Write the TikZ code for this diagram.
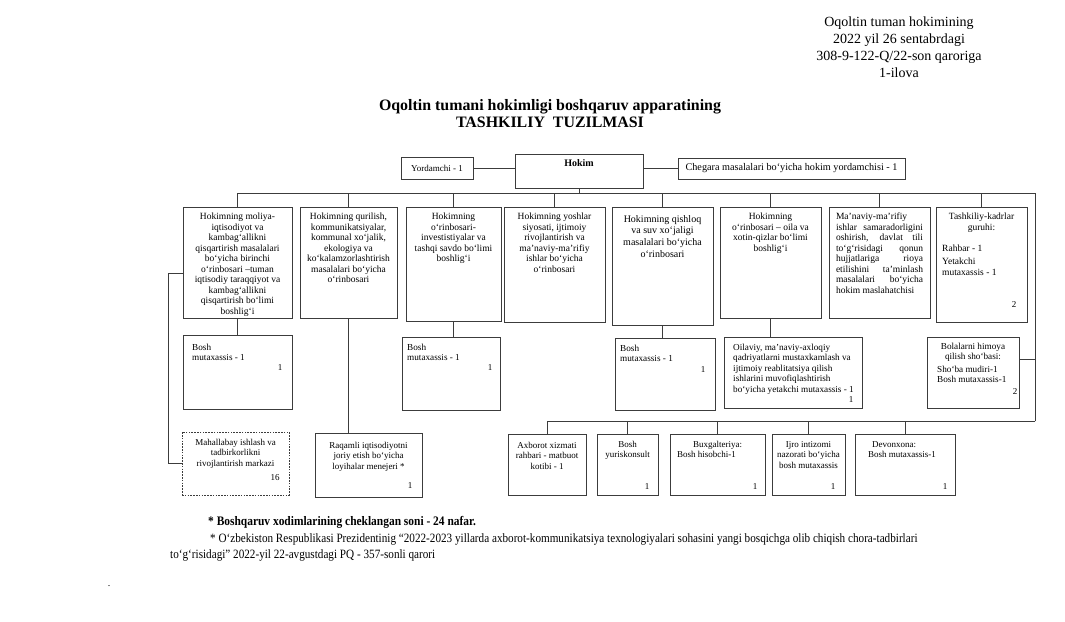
\documentclass[tikz,border=0pt]{standalone}
\usepackage{fontspec}
\setmainfont{Liberation Serif}
\newfontfamily\notefont[FakeStretch=0.88]{Liberation Serif}
\usetikzlibrary{positioning}
\definecolor{boxline}{RGB}{60, 60, 60}

\begin{document}
\begin{tikzpicture}[x=1pt, y=-1pt,
        box/.style={draw=boxline, line width=0.7pt, anchor=north west, inner sep=0pt, outer sep=0pt},
        dbox/.style={box, dash pattern=on 1.6pt off 1.2pt},
        txt/.style={inner sep=0pt, align=center, font=\fontsize{9}{10.5}\selectfont},
        txtl/.style={txt, align=left},
        big/.style={txt, font=\fontsize{9.5}{10.5}\selectfont},
        small/.style={inner sep=0pt, align=left, font=\fontsize{9.2}{10.4}\selectfont},
        num/.style={inner sep=0pt, font=\fontsize{9}{10.5}\selectfont},
        link/.style={draw=boxline, line width=0.7pt}
    ]
        \useasboundingbox (0,0) rectangle (1065,621);

        % Header
        \node[font=\fontsize{14}{17}\selectfont, align=center, anchor=north] (ilova) at (899,13) {Oqoltin tuman hokimining\\2022 yil 26 sentabrdagi\\308-9-122-Q/22-son qaroriga\\1-ilova};
        \node[font=\bfseries\fontsize{15.9}{17}\selectfont, align=center, anchor=north] (title) at (550,95.5) {Oqoltin tumani hokimligi boshqaruv apparatining\\TASHKILIY\ \ TUZILMASI};

        % Hokim
        \node[box, minimum width=72pt, minimum height=22pt, font=\fontsize{9}{10.5}\selectfont] (yord) at (401,157) {Yordamchi - 1};
        \node[box, minimum width=128pt, minimum height=34pt] (hokim) at (515,154) {};
        \node[txt, font=\bfseries\fontsize{10}{11.5}\selectfont, below=5pt of hokim.north] (hokimt) {Hokim};
        \node[box, minimum width=227pt, minimum height=21pt, font=\fontsize{10.2}{11.5}\selectfont] (cheg) at (678,158) {Chegara masalalari bo‘yicha hokim yordamchisi - 1};
        \draw[link] (yord.east) -- (yord.east -| hokim.west);
        \draw[link] (cheg.west) -- (cheg.west -| hokim.east);

        % Deputies
        \node[box, minimum width=109pt, minimum height=111pt] (m1) at (183,207) {};
        \node[box, minimum width=97pt, minimum height=111pt] (m2) at (300,207) {};
        \node[box, minimum width=95pt, minimum height=114pt] (m3) at (406,207) {};
        \node[box, minimum width=101pt, minimum height=115pt] (m4) at (504,207) {};
        \node[box, minimum width=101pt, minimum height=118pt] (m5) at (612,207) {};
        \node[box, minimum width=101pt, minimum height=111pt] (m6) at (720,207) {};
        \node[box, minimum width=101pt, minimum height=111pt] (m7) at (829,207) {};
        \node[box, minimum width=91pt, minimum height=115pt] (m8) at (936,207) {};
        \node[big, below=6pt of m1.north] (m1t) {Hokimning moliya-\\iqtisodiyot va\\kambag‘allikni\\qisqartirish masalalari\\bo‘yicha birinchi\\o‘rinbosari –tuman\\iqtisodiy taraqqiyot va\\kambag‘allikni\\qisqartirish bo‘limi\\boshlig‘i};
        \node[big, below=6pt of m2.north] (m2t) {Hokimning qurilish,\\kommunikatsiyalar,\\kommunal xo‘jalik,\\ekologiya va\\ko‘kalamzorlashtirish\\masalalari bo‘yicha\\o‘rinbosari};
        \node[big, below=6pt of m3.north] (m3t) {Hokimning\\o‘rinbosari-\\investistiyalar va\\tashqi savdo bo‘limi\\boshlig‘i};
        \node[big, below=6pt of m4.north] (m4t) {Hokimning yoshlar\\siyosati, ijtimoiy\\rivojlantirish va\\ma’naviy-ma’rifiy\\ishlar bo‘yicha\\o‘rinbosari};
        \node[txt, font=\fontsize{10}{11.8}\selectfont, below=8pt of m5.north] (m5t) {Hokimning qishloq\\va suv xo‘jaligi\\masalalari bo‘yicha\\o‘rinbosari};
        \node[big, below=6pt of m6.north] (m6t) {Hokimning\\o‘rinbosari – oila va\\xotin-qizlar bo‘limi\\boshlig‘i};
        \node[big, align=justify, text width=87pt, below=6pt of m7.north] (m7t) {Ma’naviy-ma’rifiy\\ishlar samaradorligini\linebreak oshirish, davlat tili\linebreak to‘g‘risidagi qonun\linebreak hujjatlariga rioya\linebreak etilishini ta’minlash\linebreak masalalari bo‘yicha\linebreak hokim maslahatchisi};
        \node[big, below=6pt of m8.north] (m8t) {Tashkiliy-kadrlar\\guruhi:};
        \node[big, align=left, anchor=north west] (m8s) at (942,244.5) {Rahbar - 1\\[3pt]Yetakchi\\mutaxassis - 1};
        \node[num] (m8n) at (1014,305) {2};

        % Specialists
        \node[box, minimum width=109pt, minimum height=74pt] (bA) at (183,335) {};
        \node[box, minimum width=98pt, minimum height=73pt] (bB) at (402,337) {};
        \node[box, minimum width=100pt, minimum height=72pt] (bC) at (615,338) {};
        \node[box, minimum width=138pt, minimum height=71pt] (oil) at (724,337) {};
        \node[box, minimum width=92pt, minimum height=71pt] (bol) at (927,337) {};
        \node[small, below right=9pt and 9pt of bA.north west] (bAt) {Bosh\\mutaxassis - 1};
        \node[small, below right=7pt and 5pt of bB.north west] (bBt) {Bosh\\mutaxassis - 1};
        \node[small, below right=7pt and 5pt of bC.north west] (bCt) {Bosh\\mutaxassis - 1};
        \node[small, below right=7pt and 9pt of oil.north west] (oilt) {Oilaviy, ma’naviy-axloqiy\\qadriyatlarni mustaxkamlash va\\ijtimoiy reablitatsiya qilish\\ishlarini muvofiqlashtirish\\bo‘yicha yetakchi mutaxassis - 1};
        \node[small, align=center, below=6pt of bol.north] (bolt) {Bolalarni himoya\\qilish sho‘basi:};
        \node[small, below right=29pt and 10pt of bol.north west] (bols) {Sho‘ba mudiri-1\\Bosh mutaxassis-1};
        \node[num] (bAn) at (280,368) {1};
        \node[num] (bBn) at (490,368) {1};
        \node[num] (bCn) at (703,370) {1};
        \node[num] (oiln) at (851,400) {1};
        \node[num] (boln) at (1015,392) {2};

        % Bottom row
        \node[dbox, minimum width=107pt, minimum height=63pt] (mah) at (182,432) {};
        \node[box, minimum width=107pt, minimum height=64pt] (raq) at (315,433) {};
        \node[box, minimum width=78pt, minimum height=61pt] (axb) at (508,434) {};
        \node[box, minimum width=61pt, minimum height=61pt] (yur) at (597,434) {};
        \node[box, minimum width=95pt, minimum height=61pt] (bux) at (670,434) {};
        \node[box, minimum width=73pt, minimum height=61pt] (ijro) at (772,434) {};
        \node[box, minimum width=100pt, minimum height=61pt] (dev) at (855,434) {};
        \node[txt, below=7pt of mah.north] (maht) {Mahallabay ishlash va\\tadbirkorlikni\\rivojlantirish markazi};
        \node[txt, below=9pt of raq.north] (raqt) {Raqamli iqtisodiyotni\\joriy etish bo‘yicha\\loyihalar menejeri *};
        \node[txt, below=8pt of axb.north] (axbt) {Axborot xizmati\\rahbari - matbuot\\kotibi - 1};
        \node[txt, below=7pt of yur.north] (yurt) {Bosh\\yuriskonsult};
        \node[txtl, anchor=north west] (buxt) at (677,441) {\hspace*{16pt}Buxgalteriya:\\Bosh hisobchi-1};
        \node[txt, below=7pt of ijro.north] (ijrot) {Ijro intizomi\\nazorati bo‘yicha\\bosh mutaxassis};
        \node[txtl, anchor=north west] (devt) at (868,441) {\hspace*{4pt}Devonxona:\\Bosh mutaxassis-1};
        \node[num] (mahn) at (275,478) {16};
        \node[num] (raqn) at (410,486) {1};
        \node[num] (yurn) at (647,487) {1};
        \node[num] (buxn) at (755,487) {1};
        \node[num] (ijron) at (833,487) {1};
        \node[num] (devn) at (945,487) {1};

        % Lines
        \coordinate (busR) at (1035,193);
        \coordinate (busB) at (1035,421);
        \coordinate (busT) at (hokim.south |- busR);
        \coordinate (lft) at (168,273);
        \coordinate (bolin) at ([yshift=-22pt]bol.north east);
        \draw[link] (hokim.south) -- (busT);
        \foreach \m in {m1,m2,m3,m4,m5,m6,m7,m8}
            \draw[link] (busT) -| (\m.north);
        \draw[link] (busT) -- (busR) -- (busB);
        \foreach \b in {axb,yur,bux,ijro,dev}
            \draw[link] (busB) -| (\b.north);
        \draw[link] (bolin) -- (bolin -| busR);
        \draw[link] (m1.west |- lft) -- (lft) |- (mah.west);
        \draw[link] (m1.south) -- (bA.north);
        \draw[link] (m2.south) -- (m2.south |- raq.north);
        \draw[link] (m3.south) -- (m3.south |- bB.north);
        \draw[link] (m5.south) -- (m5.south |- bC.north);
        \draw[link] (m6.south) -- (m6.south |- oil.north);

        % Notes
        \node[font=\notefont\bfseries\fontsize{13}{15}\selectfont, inner sep=0pt, anchor=north west] (note1) at (208,516) {* Boshqaruv xodimlarining cheklangan soni - 24 nafar.};
        \node[font=\notefont\fontsize{12.7}{16}\selectfont, inner sep=0pt, align=left, anchor=north west] (note2) at (170,533.5) {\hspace*{40pt}* O‘zbekiston Respublikasi Prezidentinig “2022-2023 yillarda axborot-kommunikatsiya texnologiyalari sohasini yangi bosqichga olib chiqish chora-tadbirlari\\to‘g‘risidagi” 2022-yil 22-avgustdagi PQ - 357-sonli qarori};
        \node[font=\fontsize{10}{12}\selectfont, inner sep=0pt] (dot) at (109,586) {.};
    \end{tikzpicture}
\end{document}
